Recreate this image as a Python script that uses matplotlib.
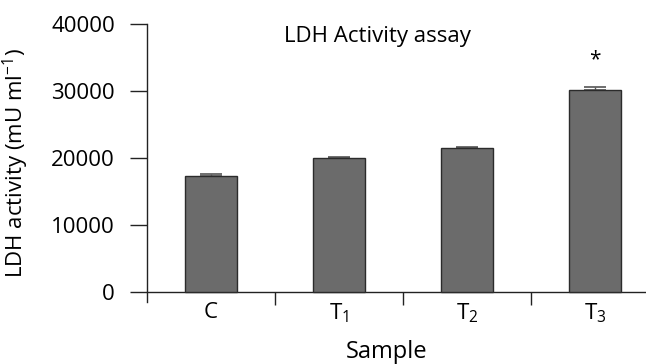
import numpy as np
import matplotlib
matplotlib.use("Agg")
import matplotlib.pyplot as plt

plt.rcParams["font.family"] = ["Open Sans", "DejaVu Sans"]
plt.rcParams["mathtext.fontset"] = "custom"
plt.rcParams["mathtext.rm"] = "Open Sans"
plt.rcParams["mathtext.it"] = "Open Sans"

# data
samples = ["C", r"T$_1$", r"T$_2$", r"T$_3$"]
activity = [17300, 19950, 21450, 30200]
err_upper = [300, 250, 150, 400]
significant = [False, False, False, True]

fig = plt.figure(figsize=(6.46, 3.64), dpi=100)
ax = fig.add_axes([0.2276, 0.1703, 0.7724, 0.7637])

x = np.arange(len(samples))
ax.bar(x, activity, width=0.41, color="#6b6b6b", edgecolor="#2b2b2b",
       linewidth=1.0, zorder=3)
ax.errorbar(x, activity, yerr=[np.zeros(len(x)), err_upper], fmt="none",
            ecolor="#555555", elinewidth=1.0, capsize=8, capthick=1.2, zorder=2)

for xi, v, e, s in zip(x, activity, err_upper, significant):
    if s:
        ax.text(xi, v + e + 4000, "*", ha="center", va="center", fontsize=15)

ax.set_xlim(-0.5, 3.4)
ax.set_ylim(-1500, 40000)
ax.set_yticks([0, 10000, 20000, 30000, 40000])
ax.set_xticks(x)
ax.set_xticklabels(samples)
ax.set_xticks(x[:-1] + 0.5, minor=True)

ax.spines["top"].set_visible(False)
ax.spines["right"].set_visible(False)
ax.spines["bottom"].set_position(("data", 0))
ax.spines["left"].set_bounds(-1500, 40000)
for sp in ("left", "bottom"):
    ax.spines[sp].set_color("#222222")
    ax.spines[sp].set_linewidth(1.0)

ax.tick_params(axis="y", direction="out", length=12, width=1.0,
               color="#222222", labelsize=16, pad=11)
ax.tick_params(axis="x", which="major", length=0, labelsize=16, pad=7)
ax.tick_params(axis="x", which="minor", direction="out", length=9,
               width=1.0, color="#222222")

ax.text(0.462, 0.955, "LDH Activity assay", transform=ax.transAxes,
        ha="center", va="center", fontsize=16)
ax.set_ylabel(r"LDH activity (mU ml$^{-1}$)", fontsize=16)
ax.yaxis.set_label_coords(-0.232, 0.5)
ax.set_xlabel("Sample", fontsize=17)
ax.xaxis.set_label_coords(0.48, -0.135)

fig.savefig("out.png", dpi=100)
